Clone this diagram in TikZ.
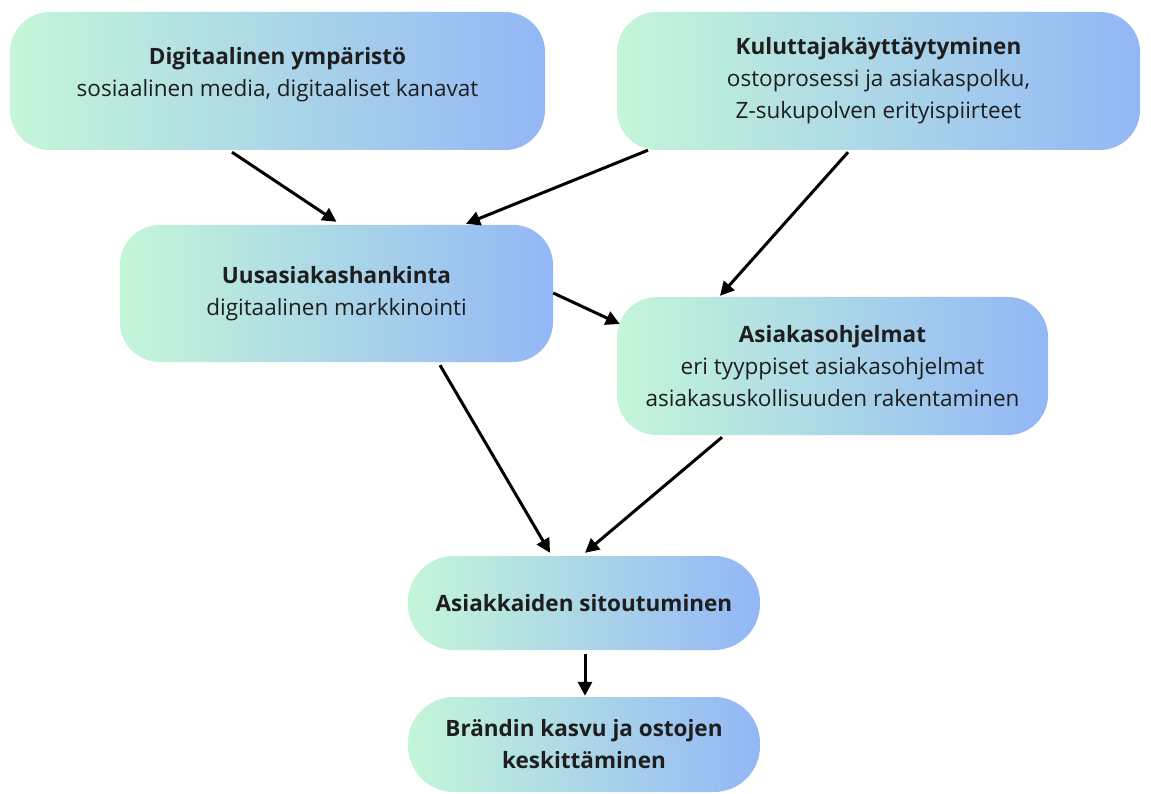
\documentclass[tikz,border=0pt]{standalone}
\usepackage{fontspec}
\setmainfont{Open Sans}
\usetikzlibrary{arrows.meta}
\definecolor{mint}{HTML}{C4F6D8}
\definecolor{sky}{HTML}{93B7F6}
\definecolor{txt}{HTML}{1E1E1E}
\begin{document}
\begin{tikzpicture}[x=1pt,y=-1pt,
  lbl/.style={align=center, inner sep=0pt, text=txt, font=\fontsize{22.5}{32}\selectfont},
  box/.style={lbl, rounded corners=40pt, left color=mint, right color=sky, draw=none},
  pill/.style={box, rounded corners=46pt},
  arr/.style={-{Triangle[length=14pt,width=14pt]}, line width=3pt, black}]
\useasboundingbox (0,0) rectangle (1151,794);
\fill[white] (0,0) rectangle (1151,794);
\node[box, minimum width=535pt, minimum height=138pt] (b1) at (277.5,81) {};
\node[lbl] (b1t) at ([yshift=6pt]b1.center)
  {\textbf{Digitaalinen ympäristö}\\sosiaalinen media, digitaaliset kanavat};
\node[box, minimum width=523pt, minimum height=138pt] (b2) at (878.5,81)
  {\textbf{Kuluttajakäyttäytyminen}\\ostoprosessi ja asiakaspolku,\\Z-sukupolven erityispiirteet};
\node[box, minimum width=433pt, minimum height=137pt] (b3) at (336.5,293.5)
  {\textbf{Uusasiakashankinta}\\digitaalinen markkinointi};
\node[box, minimum width=431pt, minimum height=138pt] (b4) at (832.5,366)
  {\textbf{Asiakasohjelmat}\\eri tyyppiset asiakasohjelmat\\asiakasuskollisuuden rakentaminen};
\node[pill, minimum width=352pt, minimum height=94pt] (b5) at (584,603)
  {\textbf{Asiakkaiden sitoutuminen}};
\node[pill, minimum width=352pt, minimum height=95pt] (b6) at (584,744.5)
  {\textbf{Brändin kasvu ja ostojen}\\\textbf{keskittäminen}};
\draw[arr] ([xshift=-45.5pt,yshift=-2pt]b1.south) -- ([yshift=3pt]b3.north);
\draw[arr] ([xshift=-230.5pt]b2.south) -- ([xshift=129.5pt,yshift=1pt]b3.north);
\draw[arr] ([xshift=-30.5pt,yshift=-2pt]b2.south) -- ([xshift=-112.5pt,yshift=1pt]b4.north);
\draw[arr] ([yshift=0.5pt]b3.east) -- ([xshift=3pt,yshift=42pt]b4.west);
\draw[arr] ([xshift=103.5pt,yshift=-3pt]b3.south) -- ([xshift=-34pt,yshift=3pt]b5.north);
\draw[arr] ([xshift=-110.5pt,yshift=-2pt]b4.south) -- ([xshift=1pt,yshift=3pt]b5.north);
\draw[arr] ([xshift=1pt,yshift=-4pt]b5.south) -- ([xshift=1pt,yshift=1pt]b6.north);
\end{tikzpicture}
\end{document}
